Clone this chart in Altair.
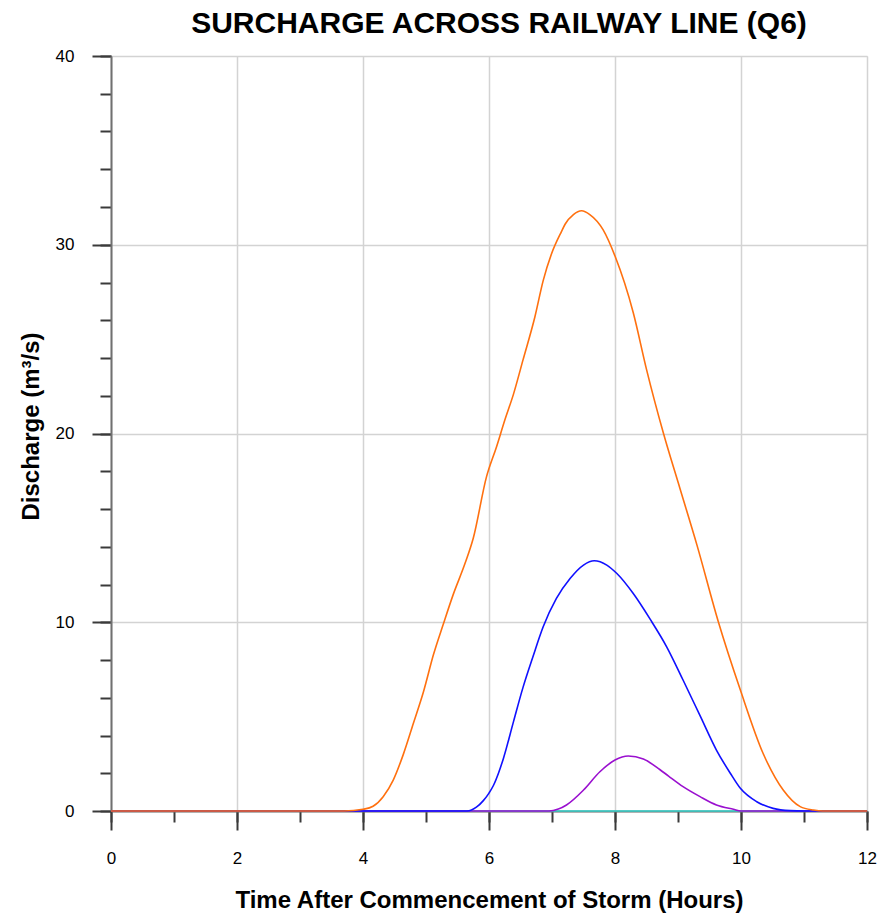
import altair as alt
import pandas as pd

# Hydrographs: time after commencement of storm (hours) vs discharge (m³/s)
orange_t = [0, 3.7, 4.0, 4.16, 4.32, 4.48, 4.64, 4.8, 4.96, 5.12, 5.27, 5.43, 5.62, 5.75,
            5.96, 6.12, 6.25, 6.39, 6.54, 6.73, 6.86, 6.99, 7.15, 7.21, 7.34, 7.47, 7.6,
            7.81, 8.0, 8.29, 8.5, 8.77, 9.03, 9.3, 9.64, 9.99, 10.35, 10.67, 10.94,
            11.15, 11.3, 12]
orange_q = [0, 0, 0.09, 0.25, 0.76, 1.64, 3.0, 4.65, 6.32, 8.3, 9.85, 11.45, 13.12, 14.45,
            17.7, 19.3, 20.7, 22.1, 23.9, 26.2, 28.1, 29.5, 30.7, 31.1, 31.6, 31.8, 31.6,
            30.8, 29.4, 26.4, 23.4, 20.0, 17.1, 14.1, 10.03, 6.41, 3.06, 1.11, 0.23,
            0.05, 0, 0]

blue_t = [0, 5.65, 5.8, 5.91, 6.0, 6.07, 6.15, 6.23, 6.39, 6.54, 6.7, 6.86, 7.07, 7.29,
          7.5, 7.67, 7.87, 8.03, 8.29, 8.56, 8.82, 9.08, 9.35, 9.61, 9.83, 9.99, 10.25,
          10.51, 10.78, 11.0, 12]
blue_q = [0, 0, 0.2, 0.55, 0.95, 1.35, 2.0, 2.8, 4.75, 6.55, 8.2, 9.76, 11.26, 12.33,
          13.03, 13.26, 13.03, 12.58, 11.52, 10.15, 8.7, 6.94, 5.05, 3.23, 2.0, 1.2, 0.49,
          0.14, 0.02, 0, 0]

purple_t = [0, 6.95, 7.1, 7.23, 7.5, 7.76, 8.0, 8.21, 8.45, 8.71, 8.85, 9.08, 9.35, 9.61,
            9.88, 10.0, 12]
purple_q = [0, 0, 0.1, 0.32, 1.11, 2.08, 2.7, 2.91, 2.75, 2.2, 1.85, 1.29, 0.76, 0.32,
            0.09, 0, 0]

cyan_t = [0, 12]
cyan_q = [0, 0]

x_major = [0, 2, 4, 6, 8, 10, 12]
x_minor = [0, 1, 2, 3, 4, 5, 6, 7, 8, 9, 10, 11, 12]
y_major = [0, 10, 20, 30, 40]
y_minor = list(range(0, 42, 2))

W, H = 756, 755
FONT = "Liberation Sans"
TICK = "#3a3a3a"

x_scale = alt.Scale(domain=[0, 12], nice=False, zero=False)
y_scale = alt.Scale(domain=[0, 40], nice=False, zero=False)

minor_x_axis = alt.Axis(values=x_minor, orient="bottom", tickSize=11, tickWidth=2,
                        tickColor=TICK, labels=False, grid=False, domain=False, title="")
minor_y_axis = alt.Axis(values=y_minor, orient="left", tickSize=11, tickWidth=2,
                        tickColor=TICK, labels=False, grid=False, domain=False, title="")

main_x_axis = alt.Axis(
    values=x_major, orient="bottom", tickSize=19, tickWidth=2, tickColor=TICK,
    grid=True, gridColor="#d3d3d3", gridWidth=1.5,
    domain=True, domainColor="#707070", domainWidth=2,
    labelFont=FONT, labelFontSize=17, labelColor="#000000", labelPadding=20,
    labelFlush=False, format="d",
    title="Time After Commencement of Storm (Hours)", titleFont=FONT, titleFontSize=24,
    titleFontWeight="bold", titleColor="#000000", titleX=W / 2, titleY=89,
    titleBaseline="middle", titleAlign="center",
)
main_y_axis = alt.Axis(
    values=y_major, orient="left", tickSize=19, tickWidth=2, tickColor=TICK,
    grid=True, gridColor="#d3d3d3", gridWidth=1.5,
    domain=True, domainColor="#707070", domainWidth=2,
    labelFont=FONT, labelFontSize=17, labelColor="#000000", labelPadding=18,
    format="d",
    title="Discharge (m³/s)", titleFont=FONT, titleFontSize=24,
    titleFontWeight="bold", titleColor="#000000", titleX=-80, titleY=370,
    titleAngle=-90, titleBaseline="middle", titleAlign="center",
)


def hydrograph(t, q, color, x_axis=None, y_axis=None):
    df = pd.DataFrame({"t": t, "q": q})
    return alt.Chart(df).mark_line(
        color=color, strokeWidth=1.6, interpolate="monotone"
    ).encode(
        x=alt.X("t:Q", scale=x_scale, axis=x_axis),
        y=alt.Y("q:Q", scale=y_scale, axis=y_axis),
    )


chart = alt.layer(
    hydrograph(cyan_t, cyan_q, "#35d3cc", minor_x_axis, minor_y_axis),
    hydrograph(purple_t, purple_q, "#9a10cf"),
    hydrograph(blue_t, blue_q, "#1010ff"),
    hydrograph(orange_t, orange_q, "#ff700f", main_x_axis, main_y_axis),
).resolve_axis(
    x="independent", y="independent"
).properties(
    width=W,
    height=H,
    title=alt.TitleParams(
        "SURCHARGE ACROSS RAILWAY LINE (Q6)", font=FONT, fontSize=30,
        fontWeight="bold", color="#000000", anchor="middle", frame="group",
        dx=10, offset=8,
    ),
    autosize=alt.AutoSizeParams(type="none"),
    padding={"left": 111, "top": 56, "right": 11, "bottom": 106},
).configure_view(stroke=None).configure(background="#ffffff")

chart.save("out.html", embed_options={"renderer": "svg", "actions": False})
